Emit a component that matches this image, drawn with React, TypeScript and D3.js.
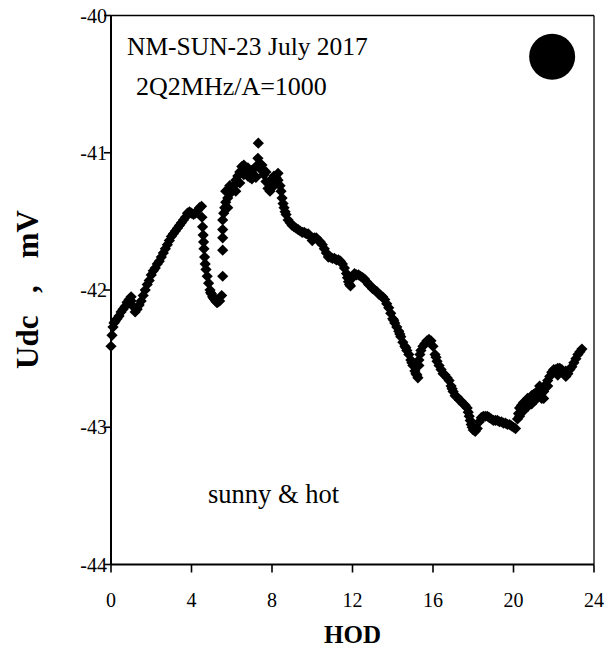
import React from "react";
import * as d3 from "d3";

// ---- data ----
const hod: number[] = [
  0.0, 0.1, 0.2, 0.3, 0.4, 0.5, 0.6, 0.7, 0.8, 0.9,
  1.0, 1.1, 1.2, 1.3, 1.4, 1.5, 1.6, 1.7, 1.8, 1.9,
  2.0, 2.1, 2.2, 2.3, 2.4, 2.5, 2.6, 2.7, 2.8, 2.9,
  3.0, 3.1, 3.2, 3.3, 3.4, 3.5, 3.6, 3.7, 3.8, 3.9,
  4.0, 4.1, 4.2, 4.3, 4.4, 4.5, 4.52, 4.55, 4.58, 4.6,
  4.62, 4.65, 4.68, 4.72, 4.78, 4.85, 4.92, 5.0, 5.1, 5.2,
  5.3, 5.4, 5.5, 5.55, 5.55, 5.55, 5.55, 5.55, 5.6, 5.65,
  5.7, 5.8, 5.9, 6.0, 6.1, 6.2, 6.3, 6.4, 6.5, 6.6,
  6.7, 6.8, 6.9, 7.0, 7.1, 7.2, 7.3, 7.32, 7.4, 7.5,
  7.6, 7.7, 7.8, 7.9, 8.0, 8.1, 8.2, 8.3, 8.4, 8.5,
  8.6, 8.7, 8.8, 8.9, 9.0, 9.1, 9.2, 9.3, 9.4, 9.5,
  9.6, 9.7, 9.8, 9.9, 10.0, 10.1, 10.2, 10.3, 10.4, 10.5,
  10.6, 10.7, 10.8, 10.9, 11.0, 11.1, 11.2, 11.3, 11.4, 11.5,
  11.6, 11.7, 11.8, 11.9, 12.0, 12.1, 12.2, 12.3, 12.4, 12.5,
  12.6, 12.7, 12.8, 12.9, 13.0, 13.1, 13.2, 13.3, 13.4, 13.5,
  13.6, 13.7, 13.8, 13.9, 14.0, 14.1, 14.2, 14.3, 14.4, 14.5,
  14.6, 14.7, 14.8, 14.9, 15.0, 15.1, 15.2, 15.25, 15.3, 15.35,
  15.4, 15.5, 15.6, 15.7, 15.8, 15.9, 16.0, 16.1, 16.2, 16.3,
  16.4, 16.5, 16.6, 16.7, 16.8, 16.9, 17.0, 17.1, 17.2, 17.3,
  17.4, 17.5, 17.6, 17.7, 17.8, 17.9, 18.0, 18.1, 18.2, 18.3,
  18.4, 18.5, 18.6, 18.7, 18.8, 18.9, 19.0, 19.1, 19.2, 19.3,
  19.4, 19.5, 19.6, 19.7, 19.8, 19.9, 20.0, 20.1, 20.2, 20.3,
  20.4, 20.5, 20.6, 20.7, 20.8, 20.9, 21.0, 21.1, 21.2, 21.3,
  21.4, 21.5, 21.6, 21.7, 21.8, 21.9, 22.0, 22.1, 22.2, 22.3,
  22.4, 22.5, 22.6, 22.7, 22.8, 22.9, 23.0, 23.1, 23.2, 23.3,
  23.4,
];

const udc: number[] = [
  -42.41, -42.27, -42.23, -42.21, -42.19, -42.16, -42.14, -42.12, -42.09, -42.07,
  -42.08, -42.12, -42.16, -42.14, -42.11, -42.08, -42.04, -42.0, -41.96, -41.93,
  -41.89, -41.86, -41.84, -41.81, -41.79, -41.76, -41.73, -41.7, -41.67, -41.64,
  -41.61, -41.59, -41.57, -41.55, -41.53, -41.51, -41.49, -41.47, -41.44, -41.43,
  -41.44, -41.45, -41.44, -41.42, -41.4, -41.39, -41.47, -41.54, -41.6, -41.65,
  -41.7, -41.76, -41.81, -41.85, -41.9, -41.95, -42.0, -42.03, -42.06, -42.08,
  -42.09, -42.08, -42.04, -41.9, -41.71, -41.62, -41.56, -41.49, -41.44, -41.4,
  -41.36, -41.33, -41.3, -41.28, -41.24, -41.2, -41.17, -41.14, -41.1, -41.09,
  -41.13, -41.17, -41.18, -41.19, -41.16, -41.1, -41.04, -40.93, -41.08, -41.13,
  -41.16, -41.21, -41.26, -41.23, -41.19, -41.17, -41.18, -41.2, -41.24, -41.33,
  -41.4, -41.45, -41.49, -41.51, -41.53, -41.54, -41.55, -41.56, -41.57, -41.58,
  -41.58, -41.59, -41.59, -41.61, -41.64, -41.62, -41.62, -41.64, -41.65, -41.67,
  -41.7, -41.73, -41.76, -41.76, -41.77, -41.77, -41.78, -41.78, -41.79, -41.81,
  -41.84, -41.88, -41.94, -41.97, -41.91, -41.88, -41.89, -41.89, -41.9, -41.91,
  -41.92, -41.94, -41.96, -41.97, -41.99, -42.0, -42.01, -42.03, -42.04, -42.05,
  -42.07, -42.1, -42.13, -42.17, -42.21, -42.24, -42.27, -42.3, -42.34, -42.38,
  -42.41, -42.44, -42.47, -42.51, -42.55, -42.59, -42.62, -42.64, -42.55, -42.47,
  -42.44, -42.41, -42.39, -42.37, -42.36, -42.37, -42.41, -42.47, -42.52, -42.55,
  -42.58, -42.61, -42.62, -42.64, -42.66, -42.7, -42.74, -42.77, -42.78, -42.8,
  -42.81, -42.83, -42.84, -42.86, -42.92, -42.98, -43.02, -43.03, -43.01, -42.96,
  -42.93, -42.92, -42.92, -42.92, -42.93, -42.94, -42.95, -42.95, -42.95, -42.96,
  -42.96, -42.97, -42.97, -42.98, -42.98, -42.99, -43.0, -43.01, -42.94, -42.86,
  -42.84, -42.82, -42.81, -42.79, -42.8, -42.77, -42.76, -42.75, -42.74, -42.77,
  -42.79, -42.74, -42.69, -42.66, -42.63, -42.6, -42.58, -42.58, -42.57, -42.57,
  -42.58, -42.61, -42.63, -42.61, -42.58, -42.56, -42.53, -42.5, -42.47, -42.45,
  -42.43,
];

// scattered readings that widen the noisy parts of the band
const hodExtra: number[] = [
  0.05, 0.15, 1.0, 4.95, 5.05, 5.15, 5.25, 5.7, 5.8, 5.9, 6.2, 6.4, 6.6, 6.8, 7.0, 7.2, 7.5, 7.7, 7.9, 8.1, 8.3,
  8.45, 8.55, 8.65, 11.75, 11.85, 14.05, 14.35, 14.65, 14.95, 15.15, 15.3, 16.15, 16.95, 17.75, 17.85, 17.95,
  20.25, 20.3, 20.5, 20.7, 20.9, 21.1, 21.3, 21.5, 21.7, 22.2, 22.6,
];
const udcExtra: number[] = [
  -42.33, -42.24, -42.05, -42.02, -42.05, -42.07, -42.09, -41.28, -41.4, -41.24, -41.28, -41.22, -41.16, -41.11, -41.13, -41.18, -41.09, -41.14, -41.28, -41.24, -41.15,
  -41.28, -41.37, -41.43, -41.91, -41.96, -42.22, -42.32, -42.42, -42.53, -42.61, -42.51, -42.49, -42.72, -42.89, -42.95, -43.0,
  -42.9, -42.92, -42.88, -42.85, -42.83, -42.8, -42.7, -42.79, -42.7, -42.62, -42.59,
];

const xTicks: number[] = [0, 4, 8, 12, 16, 20, 24];
const yTicks: number[] = [-40, -41, -42, -43, -44];

const titleLine1 = "NM-SUN-23 July 2017";
const titleLine2 = "2Q2MHz/A=1000";
const noteText = "sunny & hot";
const xLabel = "HOD";
const yLabelParts: string[] = ["Udc", ",", "mV"];

// ---- layout ----
const W = 610;
const H = 652;
const left = 111;
const right = 594;
const top = 15.5;
const bottom = 564.5;
const FONT = "Liberation Serif";

export default function App() {
  const x = d3.scaleLinear().domain([0, 24]).range([left, right]);
  const y = d3.scaleLinear().domain([-44, -40]).range([bottom, top]);

  const r = 5.6;
  const diamond = `M0,${-r}L${r},0L0,${r}L${-r},0Z`;

  const pts: [number, number][] = hod.map((h, i) => [h, udc[i]]);
  const extra: [number, number][] = hodExtra.map((h, i) => [h, udcExtra[i]]);
  const all = pts.concat(extra);

  const txt = { fontFamily: FONT } as React.CSSProperties;
  const labelX = 38;

  return (
    <svg
      width={W}
      height={H}
      style={{ position: "absolute", left: 0, top: 0, background: "#fff", fontFamily: FONT }}
    >
      <rect x={0} y={0} width={W} height={H} fill="#fff" />
      {/* frame */}
      <line x1={left} x2={right} y1={top} y2={top} stroke="#000" strokeWidth={1.3} />
      <line x1={right} x2={right} y1={top} y2={bottom} stroke="#000" strokeWidth={1.3} />
      <line x1={left} x2={left} y1={top} y2={bottom} stroke="#000" strokeWidth={2} />
      <line x1={left} x2={right} y1={bottom} y2={bottom} stroke="#000" strokeWidth={2} />

      {/* y ticks */}
      {yTicks.map((t) => (
        <g key={"y" + t}>
          <line x1={left - 7} x2={left} y1={y(t)} y2={y(t)} stroke="#000" strokeWidth={1.6} />
          <text x={left - 4} y={y(t)} dy="0.35em" textAnchor="end" fontSize={20} style={txt}>
            {t}
          </text>
        </g>
      ))}
      {/* x ticks */}
      {xTicks.map((t) => (
        <g key={"x" + t}>
          <line x1={x(t)} x2={x(t)} y1={bottom} y2={bottom + 8} stroke="#000" strokeWidth={1.6} />
          <text x={x(t)} y={607} textAnchor="middle" fontSize={20} style={txt}>
            {t}
          </text>
        </g>
      ))}

      {/* axis titles */}
      <text x={(left + right) / 2} y={643} textAnchor="middle" fontSize={25} fontWeight="bold" style={txt}>
        {xLabel}
      </text>
      <g fontSize={31} fontWeight="bold" style={txt}>
        <text transform={`translate(${labelX}, 369) rotate(-90)`} textAnchor="start">
          {yLabelParts[0]}
        </text>
        <text transform={`translate(${labelX}, 289) rotate(-90)`} textAnchor="middle">
          {yLabelParts[1]}
        </text>
        <text transform={`translate(${labelX}, 210) rotate(-90)`} textAnchor="end">
          {yLabelParts[2]}
        </text>
      </g>

      {/* annotations */}
      <text x={127} y={55} fontSize={25.5} style={txt}>{titleLine1}</text>
      <text x={136} y={95} fontSize={26} style={txt}>{titleLine2}</text>
      <text x={208} y={503} fontSize={26.5} style={txt}>{noteText}</text>
      <circle cx={x(21.92)} cy={y(-40.3)} r={23} fill="#000" />

      {/* data */}
      {all.map(([h, v], i) => (
        <path key={i} d={diamond} transform={`translate(${x(h)},${y(v)})`} fill="#000" />
      ))}
    </svg>
  );
}
